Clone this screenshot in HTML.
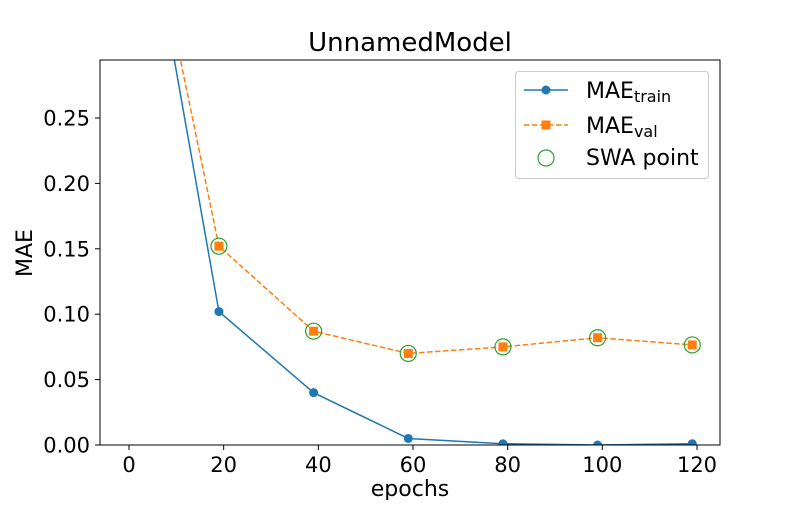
<!DOCTYPE html>
<html><head><meta charset="utf-8"><style>
body{margin:0;background:#fff;}
svg text{font-family:"DejaVu Sans","Liberation Sans",sans-serif;fill:#000;}
</style></head><body>
<svg id="chart" width="800" height="500" xmlns="http://www.w3.org/2000/svg">
<defs><clipPath id="clip"><rect x="100" y="60" width="620" height="385"/></clipPath></defs>
<rect width="800" height="500" fill="#fff"/>
<text x="410" y="51" font-size="26" text-anchor="middle">UnnamedModel</text>
<g id="xticks"></g><g id="yticks"></g>
<g id="series" clip-path="url(#clip)"></g>
<rect x="100" y="60" width="620" height="385" fill="none" stroke="#000" stroke-width="1"/>
<text x="410" y="496" font-size="22" text-anchor="middle">epochs</text>
<text transform="translate(32,253) rotate(-90)" font-size="22" text-anchor="middle">MAE</text>
<g>
<rect x="515.5" y="71.5" width="193" height="107" rx="3" fill="#fff" stroke="#ccc"/>
<g>
<line x1="524" y1="90" x2="568" y2="90" stroke="#1f77b4" stroke-width="1.5"/><circle cx="546" cy="90" r="4.5" fill="#1f77b4"/>
<text x="586" y="98" font-size="22">MAE<tspan font-size="16" dy="4">train</tspan></text></g>
<g>
<line x1="524" y1="125" x2="568" y2="125" stroke="#ff7f0e" stroke-width="1.5" stroke-dasharray="5.5,2.5"/><rect x="541.5" y="120.5" width="9" height="9" fill="#ff7f0e"/>
<text x="586" y="133" font-size="22">MAE<tspan font-size="16" dy="4">val</tspan></text></g>
<g>
<circle cx="546" cy="158" r="8" fill="none" stroke="#2ca02c" stroke-width="1.2"/>
<text x="586" y="165" font-size="22">SWA point</text></g>
</g>
</svg>
<script>
const epochs=[0,19,39,59,79,99,119];
const trainMAE=[0.49,0.102,0.040,0.005,0.001,0.0,0.001];
const valMAE=[0.485,0.152,0.087,0.070,0.075,0.082,0.0765];
const swaEpochs=[19,39,59,79,99,119];
const swaMAE=[0.152,0.087,0.070,0.075,0.082,0.0765];
const xTicks=[0,20,40,60,80,100,120];
const yTicks=[0,0.05,0.10,0.15,0.20,0.25];
const NS="http://www.w3.org/2000/svg";
const xs=v=>129+v*(697-129)/120;
const ys=v=>445-v*1308;
function mk(tag,attrs,parent){const e=document.createElementNS(NS,tag);for(const k in attrs)e.setAttribute(k,attrs[k]);parent.appendChild(e);return e;}
const xg=document.getElementById('xticks'),yg=document.getElementById('yticks'),sg=document.getElementById('series');
xTicks.forEach(t=>{const x=xs(t);
const l=mk('line',{x1:x,x2:x,y1:445,y2:450,stroke:'#000'},xg);


const tx=mk('text',{x:x,y:472,'font-size':21,'text-anchor':'middle'},xg);tx.textContent=t;

});
yTicks.forEach(t=>{const y=ys(t);
const l=mk('line',{x1:95,x2:100,y1:y,y2:y,stroke:'#000'},yg);


const tx=mk('text',{x:90,y:y+7.5,'font-size':21,'text-anchor':'end'},yg);tx.textContent=t.toFixed(2);

});
const tp=mk('polyline',{points:epochs.map((e,i)=>xs(e)+','+ys(trainMAE[i])).join(' '),fill:'none',stroke:'#1f77b4','stroke-width':1.5},sg);


epochs.forEach((e,i)=>{const c=mk('circle',{cx:xs(e),cy:ys(trainMAE[i]),r:4.5,fill:'#1f77b4'},sg);

});
const vp=mk('polyline',{points:epochs.map((e,i)=>xs(e)+','+ys(valMAE[i])).join(' '),fill:'none',stroke:'#ff7f0e','stroke-width':1.5,'stroke-dasharray':'5.5,2.5'},sg);


epochs.forEach((e,i)=>{const r=mk('rect',{x:xs(e)-4.5,y:ys(valMAE[i])-4.5,width:9,height:9,fill:'#ff7f0e'},sg);

});
swaEpochs.forEach((e,i)=>{const c=mk('circle',{cx:xs(e),cy:ys(swaMAE[i]),r:8,fill:'none',stroke:'#2ca02c','stroke-width':1.2},sg);

});
</script>
</body></html>
